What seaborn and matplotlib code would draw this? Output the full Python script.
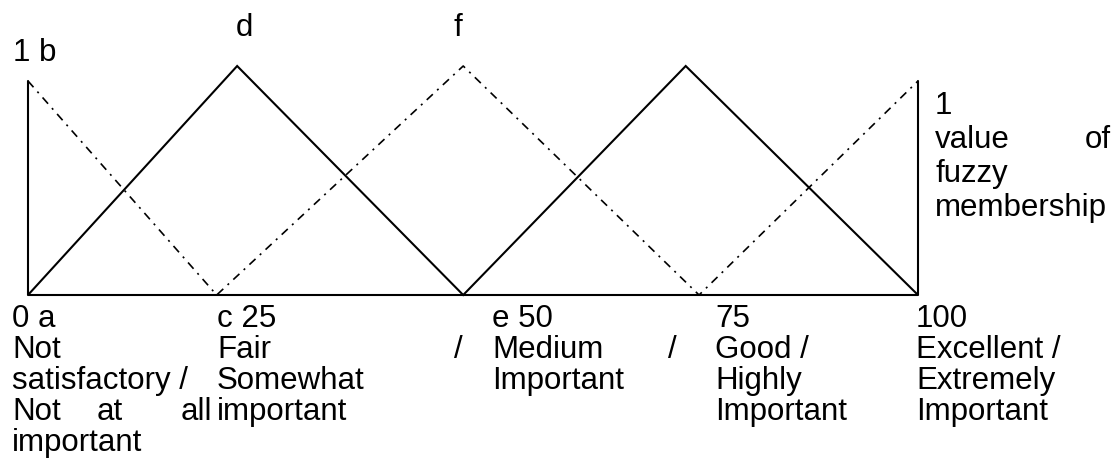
import matplotlib
matplotlib.use("Agg")
import matplotlib.pyplot as plt
import seaborn as sns
import pandas as pd

# ---- data ----
solid_x = [0, 0, 23.5, 48.9, 73.9, 100, 100]
solid_y = [1, 0, 1.07, 0, 1.07, 0, 1]
dashdot_x = [0, 21.2, 48.9, 75.4, 100]
dashdot_y = [1, 0, 1.07, 0, 1]
base_x = [0, 100]
base_y = [0, 0]

top_labels = ["1 b", "d", "f"]
right_labels = ["1", "value", "of", "fuzzy", "membership"]

sns.set_theme(style="white")
plt.rcParams['font.family'] = ['Liberation Sans', 'DejaVu Sans']

W, H = 1117, 469
fig = plt.figure(figsize=(W / 100, H / 100), dpi=100)

# axes: x 0->28px, 100->918px ; y 0->295px, 1.07->66px
left, right, bottom, top = 28, 918, 295, 66
ax = fig.add_axes([left / W, (H - bottom) / H, (right - left) / W, (bottom - top) / H])

sns.lineplot(x=solid_x, y=solid_y, sort=False, estimator=None, ax=ax,
             color="black", linewidth=1.5)
sns.lineplot(x=base_x, y=base_y, sort=False, estimator=None, ax=ax,
             color="black", linewidth=1.5)
sns.lineplot(x=dashdot_x, y=dashdot_y, sort=False, estimator=None, ax=ax,
             color="black", linewidth=1.2)
ax.lines[-1].set_dashes([5, 3.5, 1.2, 3.5])
for ln in ax.lines:
    ln.set_clip_on(False)
    ln.set_solid_joinstyle("miter")
ax.set_xlim(0, 100)
ax.set_ylim(0, 1.07)
ax.axis("off")

FS = 22.5


def put(px, py, s, ha="left"):
    fig.text(px / W, (H - py) / H, s, ha=ha, va="baseline", fontsize=FS, color="black")


# top labels
put(13, 61, top_labels[0])
put(236, 36, top_labels[1])
put(453, 36, top_labels[2])

# right labels
put(935, 114, right_labels[0])
put(935, 148, right_labels[1])
put(1111, 148, right_labels[2], ha="right")
put(935, 182, right_labels[3])
put(935, 216, right_labels[4])

# bottom labels
rows = [327, 358, 389, 420, 451]
col1 = ["0 a", "Not", "satisfactory /", None, "important"]
for r, s in zip(rows, col1):
    if s:
        put(12, r, s)
put(12, rows[3], "Not")
put(97, rows[3], "at")
put(212, rows[3], "all", ha="right")

put(217, rows[0], "c 25")
put(217, rows[1], "Fair")
put(463, rows[1], "/", ha="right")
put(217, rows[2], "Somewhat")
put(217, rows[3], "important")

put(492, rows[0], "e 50")
put(492, rows[1], "Medium")
put(677, rows[1], "/", ha="right")
put(492, rows[2], "Important")

for i, s in enumerate(["75", "Good /", "Highly", "Important"]):
    put(715, rows[i], s)
for i, s in enumerate(["100", "Excellent /", "Extremely", "Important"]):
    put(916, rows[i], s)

fig.savefig("out.png", dpi=100, facecolor="white")
